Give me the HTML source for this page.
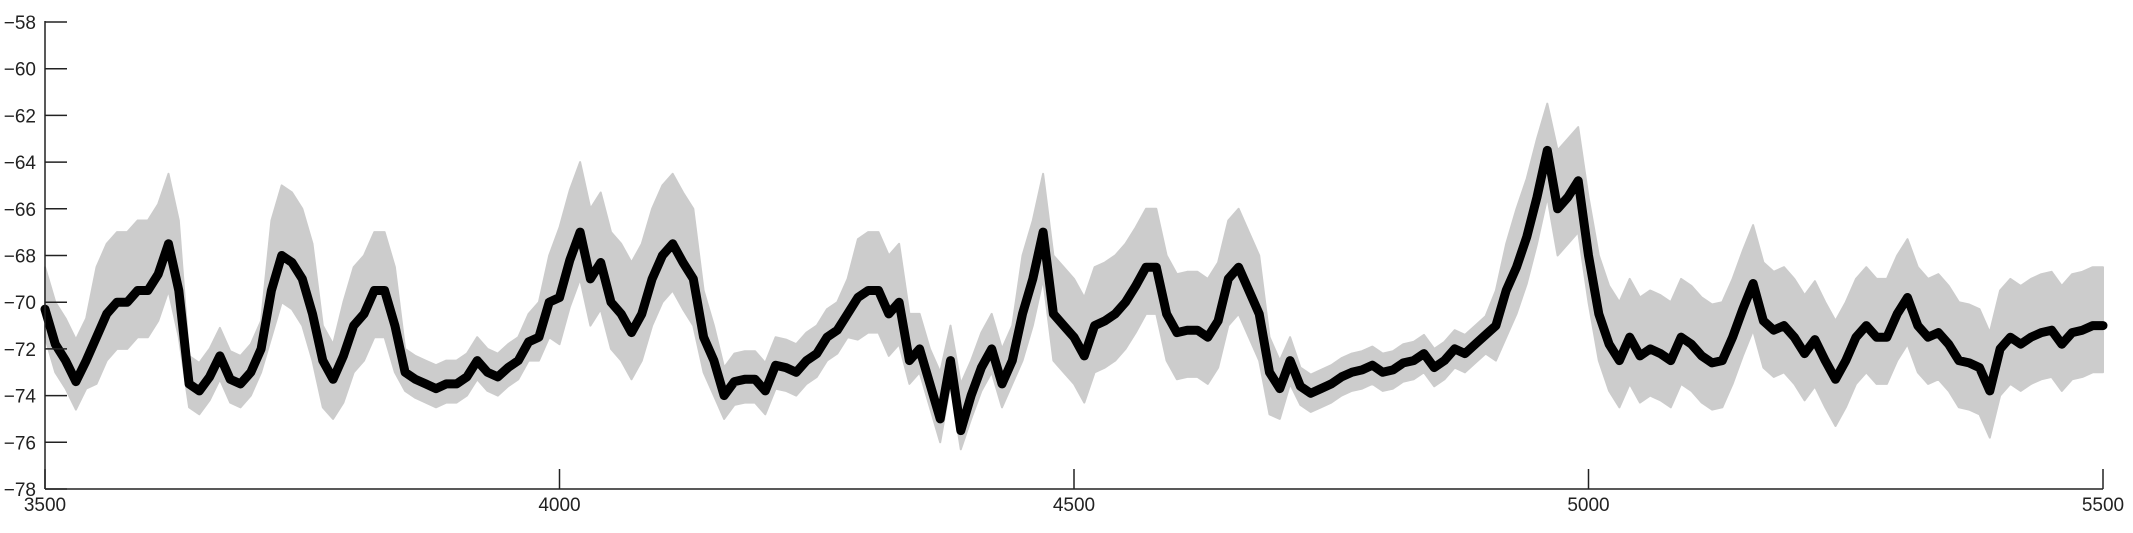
<!DOCTYPE html>
<html><head><meta charset="utf-8"><style>
html,body{margin:0;padding:0;background:#fff;}
svg{display:block;}
text{font-family:"Liberation Sans",sans-serif;font-size:19px;fill:#222;}
</style></head><body>
<svg id="chart" width="2133" height="533" viewBox="0 0 2133 533" xmlns="http://www.w3.org/2000/svg">
<g id="band"></g>
<g id="line"></g>
<g id="axes"></g>
</svg>
<script>
const meanX0 = 3500, meanStep = 10;
const meanValues = [-70.3,-71.8,-72.5,-73.4,-72.5,-71.5,-70.5,-70,-70,-69.5,-69.5,-68.8,-67.5,-69.5,-73.5,-73.8,-73.2,-72.3,-73.3,-73.5,
-73,-72,-69.5,-68,-68.3,-69,-70.5,-72.5,-73.3,-72.3,-71,-70.5,-69.5,-69.5,-71,-73,-73.3,-73.5,-73.7,-73.5,
-73.5,-73.2,-72.5,-73,-73.2,-72.8,-72.5,-71.7,-71.5,-70,-69.8,-68.2,-67,-69,-68.3,-70,-70.5,-71.3,-70.5,-69,
-68,-67.5,-68.3,-69,-71.5,-72.5,-74,-73.4,-73.3,-73.3,-73.8,-72.7,-72.8,-73,-72.5,-72.2,-71.5,-71.2,-70.5,-69.8,
-69.5,-69.5,-70.5,-70,-72.5,-72,-73.5,-75,-72.5,-75.5,-74,-72.8,-72,-73.5,-72.5,-70.5,-69,-67,-70.5,-71,
-71.5,-72.3,-71,-70.8,-70.5,-70,-69.3,-68.5,-68.5,-70.5,-71.3,-71.2,-71.2,-71.5,-70.8,-69,-68.5,-69.5,-70.5,-73,
-73.7,-72.5,-73.6,-73.9,-73.7,-73.5,-73.2,-73,-72.9,-72.7,-73,-72.9,-72.6,-72.5,-72.2,-72.8,-72.5,-72,-72.2,-71.8,
-71.4,-71,-69.5,-68.5,-67.2,-65.5,-63.5,-66,-65.5,-64.8,-68,-70.5,-71.8,-72.5,-71.5,-72.3,-72,-72.2,-72.5,-71.5,
-71.8,-72.3,-72.6,-72.5,-71.5,-70.3,-69.2,-70.8,-71.2,-71,-71.5,-72.2,-71.6,-72.5,-73.3,-72.5,-71.5,-71,-71.5,-71.5,
-70.5,-69.8,-71,-71.5,-71.3,-71.8,-72.5,-72.6,-72.8,-73.8,-72,-71.5,-71.8,-71.5,-71.3,-71.2,-71.8,-71.3,-71.2,-71,-71];
const bandX0 = 3500, bandStep = 10;
const upperValues = [-68.5,-70,-70.7,-71.6,-70.7,
-68.5,-67.5,-67,-67,-66.5,-66.5,-65.8,-64.5,-66.5,
-72.3,-72.6,-72,-71.1,-72.1,-72.3,-71.8,-70.8,
-66.5,-65,-65.3,-66,-67.5,
-71,-71.8,-70,-68.5,-68,-67,-67,-68.5,
-72,-72.3,-72.5,-72.7,-72.5,-72.5,-72.2,-71.5,-72,-72.2,-71.8,-71.5,-70.5,-70,-68,
-66.8,-65.2,-64,-66,-65.3,-67,-67.5,-68.3,-67.5,-66,-65,-64.5,-65.3,-66,
-69.5,-71,-72.8,-72.2,-72.1,-72.1,-72.6,-71.5,-71.6,-71.8,-71.3,-71,-70.3,-70,-69,
-67.3,-67,-67,-68,-67.5,
-70.5,-70.5,-72,-73,-71,-73.5,-72.5,-71.3,-70.5,-72,-71,
-68,-66.5,-64.5,-68,-68.5,-69,-69.8,-68.5,-68.3,-68,-67.5,-66.8,-66,-66,-68,-68.8,-68.7,-68.7,-69,-68.3,-66.5,-66,-67,-68,-71.5,-72.5,
-71.5,-72.8,-73.1,-72.9,-72.7,-72.4,-72.2,-72.1,-71.9,-72.2,-72.1,-71.8,-71.7,-71.4,-72,-71.7,-71.2,-71.4,-71,-70.6,
-69.5,-67.5,-66,-64.7,-63,-61.5,-63.5,-63,-62.5,-65.5,-68,
-69.3,-70,-69,-69.8,-69.5,-69.7,-70,-69,-69.3,-69.8,-70.1,-70,-69,-67.8,-66.7,-68.3,-68.7,-68.5,-69,-69.7,
-69.1,-70,-70.8,-70,-69,-68.5,-69,-69,-68,-67.3,-68.5,-69,-68.8,-69.3,-70,-70.1,-70.3,-71.3,-69.5,-69,
-69.3,-69,-68.8,-68.7,-69.3,-68.8,-68.7,-68.5,-68.5];
const lowerValues = [-71.5,-73,-73.7,-74.6,-73.7,
-73.5,-72.5,-72,-72,-71.5,-71.5,-70.8,-69.5,-71.5,
-74.5,-74.8,-74.2,-73.3,-74.3,-74.5,-74,-73,
-71.5,-70,-70.3,-71,-72.5,
-74.5,-75,-74.3,-73,-72.5,-71.5,-71.5,-73,
-73.8,-74.1,-74.3,-74.5,-74.3,-74.3,-74,-73.3,-73.8,-74,-73.6,-73.3,-72.5,-72.5,-71.5,
-71.8,-70.2,-69,-71,-70.3,-72,-72.5,-73.3,-72.5,-71,-70,-69.5,-70.3,-71,
-73,-74,-75,-74.4,-74.3,-74.3,-74.8,-73.7,-73.8,-74,-73.5,-73.2,-72.5,-72.2,-71.5,
-71.6,-71.3,-71.3,-72.3,-71.8,
-73.5,-73,-74.5,-76,-73.5,-76.3,-75,-73.8,-73,-74.5,-73.5,
-72.5,-71,-69,-72.5,-73,-73.5,-74.3,-73,-72.8,-72.5,-72,-71.3,-70.5,-70.5,-72.5,-73.3,-73.2,-73.2,-73.5,-72.8,-71,-70.5,-71.5,-72.5,-74.8,-75,
-73.5,-74.4,-74.7,-74.5,-74.3,-74,-73.8,-73.7,-73.5,-73.8,-73.7,-73.4,-73.3,-73,-73.6,-73.3,-72.8,-73,-72.6,-72.2,
-72.5,-71.5,-70.5,-69.2,-67.5,-65.5,-68,-67.5,-67,-70,-72.5,
-73.8,-74.5,-73.5,-74.3,-74,-74.2,-74.5,-73.5,-73.8,-74.3,-74.6,-74.5,-73.5,-72.3,-71.2,-72.8,-73.2,-73,-73.5,-74.2,
-73.6,-74.5,-75.3,-74.5,-73.5,-73,-73.5,-73.5,-72.5,-71.8,-73,-73.5,-73.3,-73.8,-74.5,-74.6,-74.8,-75.8,-74,-73.5,
-73.8,-73.5,-73.3,-73.2,-73.8,-73.3,-73.2,-73,-73];
const xTicks = [3500,4000,4500,5000,5500];
const yTicks = [-58,-60,-62,-64,-66,-68,-70,-72,-74,-76,-78];

const NS='http://www.w3.org/2000/svg';
const L=45,R=2103,T=22,B=489, XMIN=3500,XMAX=5500,YMIN=-78,YMAX=-58;
const sx=v=>L+(v-XMIN)/(XMAX-XMIN)*(R-L);
const sy=v=>B-(v-YMIN)/(YMAX-YMIN)*(B-T);
function mk(tag,attrs,parent){const e=document.createElementNS(NS,tag);for(const k in attrs)e.setAttribute(k,attrs[k]);parent.appendChild(e);return e;}

// band
let pts=[];
upperValues.forEach((v,i)=>pts.push(sx(bandX0+i*bandStep).toFixed(1)+','+sy(v).toFixed(1)));
for(let i=lowerValues.length-1;i>=0;i--)pts.push(sx(bandX0+i*bandStep).toFixed(1)+','+sy(lowerValues[i]).toFixed(1));
const poly=mk('polygon',{points:pts.join(' '),fill:'#cccccc',stroke:'#cccccc','stroke-width':2,'stroke-linejoin':'round'},document.getElementById('band'));



// mean line
const d=meanValues.map((v,i)=>(i?'L':'M')+sx(meanX0+i*meanStep).toFixed(1)+','+sy(v).toFixed(1)).join(' ');
const path=mk('path',{d:d,fill:'none',stroke:'#000','stroke-width':9,'stroke-linejoin':'round','stroke-linecap':'round'},document.getElementById('line'));



// axes
const ax=document.getElementById('axes');
const yl=mk('line',{x1:L,y1:T-1,x2:L,y2:B,stroke:'#222','stroke-width':1.5},ax);


const xl=mk('line',{x1:L,y1:B,x2:R,y2:B,stroke:'#222','stroke-width':1.5},ax);


yTicks.forEach(v=>{
  const t=mk('line',{x1:L,y1:sy(v),x2:L+22,y2:sy(v),stroke:'#222','stroke-width':1.5},ax);
  
  
  const tx=mk('text',{x:36,y:sy(v)+7,'text-anchor':'end'},ax);
  tx.textContent='\u2212'+Math.abs(v);
  
  
});
xTicks.forEach(v=>{
  const t=mk('line',{x1:sx(v),y1:B,x2:sx(v),y2:B-20,stroke:'#222','stroke-width':1.5},ax);
  
  
  const tx=mk('text',{x:sx(v),y:511,'text-anchor':'middle'},ax);
  tx.textContent=String(v);
  
  
});
</script>
</body></html>
